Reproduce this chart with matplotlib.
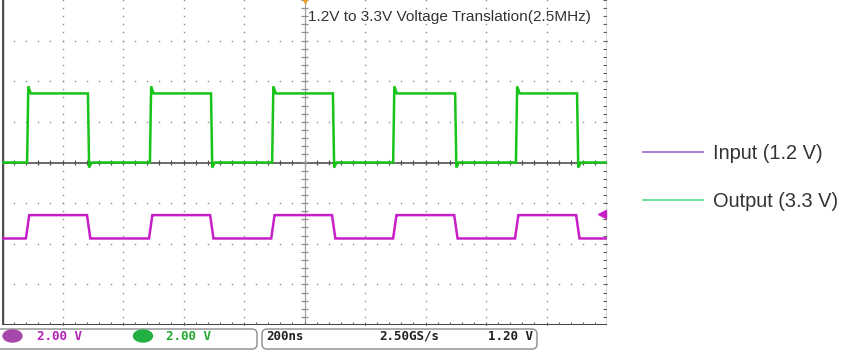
import numpy as np
import matplotlib
matplotlib.use("Agg")
import matplotlib.pyplot as plt
from matplotlib.lines import Line2D
from matplotlib.patches import FancyBboxPatch, Ellipse

# edge times (ns), 200 ns/div
out_rise = [83, 489, 893, 1293, 1699]
out_fall = [284, 691, 1094, 1498, 1901]
in_rise = [79, 486, 890, 1293, 1696]
in_fall = [281, 688, 1091, 1495, 1898]

# levels in volts
out_low, out_high = 0.0, 3.4
out_overshoot, out_undershoot = 0.35, 0.25
in_low, in_high = 0.0, 1.15

# channel settings
volts_per_div = 2.0
out_offset_div = 0.0
in_offset_div = -1.87
trig_level = 1.2

title = "1.2V to 3.3V Voltage Translation(2.5MHz)"
legend_labels = ["Input (1.2 V)", "Output (3.3 V)"]
legend_colors = ["#a36fcf", "#5fe39a"]
status_texts = ["2.00 V", "2.00 V", "200ns", "2.50GS/s", "1.20 V"]


def build_trace(rises, falls, low, high, t_edge, over, under, settle):
    t = [0]
    v = [low]
    for r, f in zip(rises, falls):
        t += [r, r + t_edge, r + t_edge + settle, f, f + t_edge, f + t_edge + settle]
        v += [low, high + over, high, high, low - under, low]
    t.append(2000)
    v.append(low)
    return np.array(t), np.array(v)


W, H = 844, 352
fig = plt.figure(figsize=(W / 100, H / 100), dpi=100)

# scope screen: 10 x 8 divisions
left, right, top, bottom = 2, 607, 0, 325
ax = fig.add_axes([left / W, 1 - bottom / H, (right - left) / W, (bottom - top) / H])
ax.set_xlim(0, 2000)
ax.set_ylim(-4, 4)
ax.axis("off")

# dotted graticule
minor_y = np.arange(-4, 4.001, 0.2)
minor_x = np.arange(0, 2000.1, 40)
for k in range(1, 10):
    if k == 5:
        continue
    ax.plot(np.full_like(minor_y, k * 200), minor_y, ls="none", marker="s",
            ms=1.0, mew=0, color="#8a8a8a")
for k in range(-3, 4):
    if k == 0:
        continue
    ax.plot(minor_x, np.full_like(minor_x, k), ls="none", marker="s",
            ms=1.0, mew=0, color="#8a8a8a")

# centre cross with ticks
ax.axhline(0, color="#505050", lw=1.2, zorder=2)
ax.vlines(minor_x, -0.07, 0.07, color="#505050", lw=0.9, zorder=2)
ax.axvline(1000, color="#a0a0a0", lw=0.9, zorder=2)
ax.hlines(minor_y, 990, 1010, color="#909090", lw=0.9, zorder=2)

# borders
ax.axvline(0, color="#505050", lw=2.5, zorder=2)
ax.axvline(2000, color="#404040", lw=1.0, zorder=2)
ax.hlines(minor_y, 1987, 2000, color="#606060", lw=0.8, zorder=2)
ax.axhline(-4, color="#303030", lw=1.3, zorder=2)
ax.vlines(minor_x, -4, -3.92, color="#606060", lw=0.8, zorder=2)

# traces
t_out, v_out = build_trace(out_rise, out_fall, out_low, out_high, 4,
                           out_overshoot, out_undershoot, 8)
t_in, v_in = build_trace(in_rise, in_fall, in_low, in_high, 11, 0.0, 0.0, 1)
ax.plot(t_out, v_out / volts_per_div + out_offset_div, color="#18c418",
        lw=1.8, zorder=4, solid_joinstyle="miter")
ax.plot(t_in, v_in / volts_per_div + in_offset_div, color="#c81ec8",
        lw=1.8, zorder=4, solid_joinstyle="miter")

# trigger markers
ax.plot([1000], [4], marker="v", ms=5, color="#f0a020", clip_on=False, zorder=5)
ax.plot([1983], [trig_level / volts_per_div + in_offset_div], marker="<", ms=6,
        color="#c81ec8", zorder=5)

# overlay in pixel coordinates for text and status bar
ov = fig.add_axes([0, 0, 1, 1])
ov.set_xlim(0, W)
ov.set_ylim(H, 0)
ov.axis("off")

ov.text(308, 17, title, fontsize=11.1, color="#333333", va="center", ha="left",
        family="Liberation Sans")

# status bar
for x0, x1 in [(-12, 257), (262, 537)]:
    ov.add_patch(FancyBboxPatch((x0, 329), x1 - x0, 20,
                                boxstyle="round,pad=0,rounding_size=5",
                                fc="white", ec="#8c8c8c", lw=1.0))
ov.add_patch(Ellipse((12.5, 336), 19, 12, color="#a648aa"))
ov.add_patch(Ellipse((143, 336), 19, 12, color="#22b044"))
status_x = [37, 166, 266, 379, 488]
status_c = ["#b020b4", "#22a830", "#202020", "#202020", "#202020"]
for s, x, c in zip(status_texts, status_x, status_c):
    ov.text(x, 336, s, fontsize=9, color=c, family="DejaVu Sans Mono",
            weight="bold", va="center", ha="left")

# legend
handles = [Line2D([], [], color=c, lw=1.3) for c in legend_colors]
fig.legend(handles, legend_labels, loc="center left",
           bbox_to_anchor=(643 / W, 1 - 177.5 / H), frameon=False,
           borderpad=0, borderaxespad=0, handlelength=3.0, handletextpad=0.5,
           labelspacing=1.45, prop={"family": "Liberation Sans", "size": 14.4},
           labelcolor="#333333")

fig.savefig("out.png", dpi=100)
